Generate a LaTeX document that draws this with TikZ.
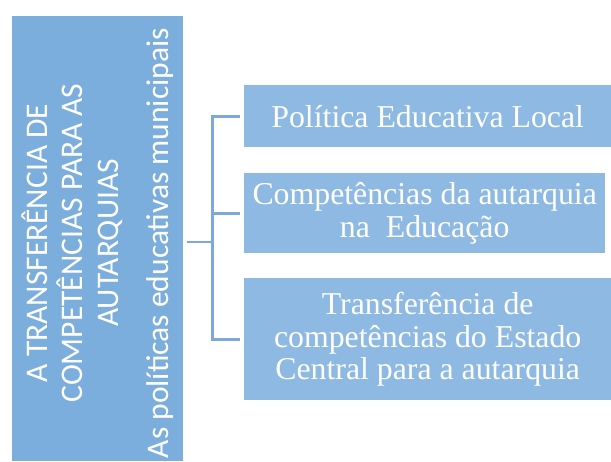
\documentclass[tikz,border=0pt]{standalone}
\usepackage{fontspec}
\setmainfont{Liberation Serif}
\newfontfamily\calib{Carlito}
\usetikzlibrary{calc}
\definecolor{leftblue}{RGB}{123,174,221}
\definecolor{boxblue}{RGB}{142,185,227}
\definecolor{linkblue}{RGB}{123,169,217}
\tikzset{
  sidetext/.style={rotate=90, anchor=base, text=white, inner sep=0pt,
    font=\calib\fontsize{31.5}{35.5}\selectfont},
  topicbox/.style={fill=boxblue, anchor=north west, inner sep=0pt,
    text=white, align=center, font=\fontsize{31.8}{32.5}\selectfont},
  conn/.style={draw=linkblue, line width=2.8pt}
}
\begin{document}
\begin{tikzpicture}[x=1pt,y=-1pt]
\useasboundingbox (0,0) rectangle (611,461);
\node[fill=leftblue, anchor=north west, inner sep=0pt,
  minimum width=171pt, minimum height=445pt] (main) at (12,16) {};
\node[sidetext] (l1) at (47,243) {A TRANSFERÊNCIA DE};
\node[sidetext] (l2) at (82.5,243) {COMPETÊNCIAS PARA AS};
\node[sidetext] (l3) at (118,243) {AUTARQUIAS};
\node[sidetext] (l4) at (168,243) {As políticas educativas municipais};

\node[topicbox, minimum width=367pt, minimum height=62pt] (b1) at (244,85)
  {Política Educativa Local};
\node[topicbox, minimum width=361pt, minimum height=80pt] (b2) at (244,173)
  {Competências da autarquia\\na~ Educação};
\node[topicbox, minimum width=367pt, minimum height=122pt] (b3) at (244,278)
  {Transferência de\\competências do Estado\\Central para a autarquia};

\coordinate (hub) at (212.5,242);
\coordinate (stub) at ($(main.east |- hub)+(4,0)$);
\draw[conn] (stub) -- (hub);
\draw[conn] ([xshift=-4pt]b1.west) -- (hub |- b1.west) -- (hub |- b3.west) -- ([xshift=-4pt]b3.west);
\draw[conn] ([xshift=-4pt]b2.west) -- (hub |- b2.west);
\end{tikzpicture}
\end{document}
